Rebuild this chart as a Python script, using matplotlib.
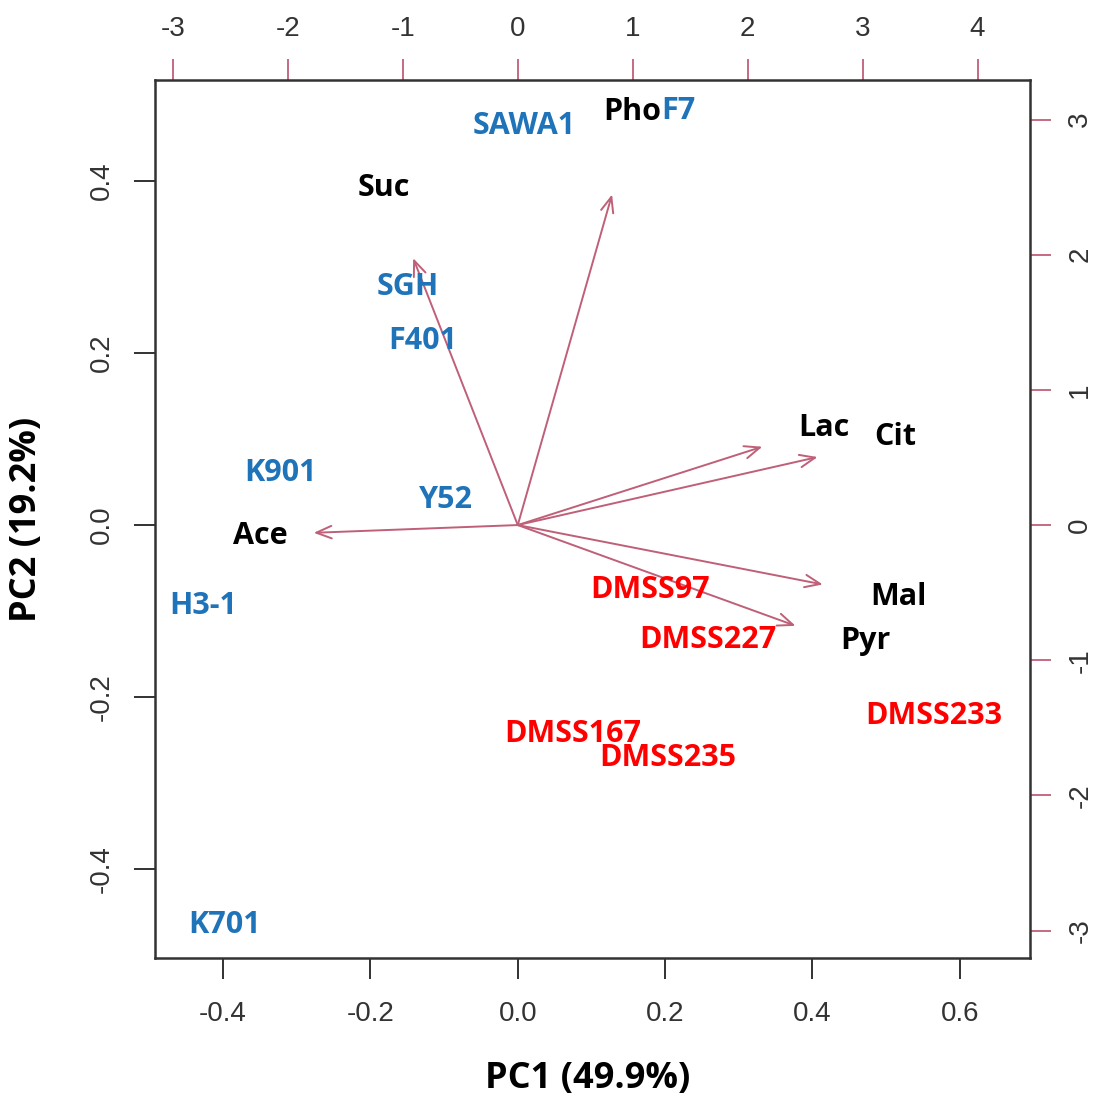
import matplotlib
matplotlib.use("Agg")
import matplotlib.pyplot as plt

# PCA loadings (arrow tips) for the organic acids / sugars
var_names = ['Pho', 'Suc', 'Ace', 'Lac', 'Cit', 'Mal', 'Pyr']
var_x = [0.128, -0.142, -0.277, 0.332, 0.407, 0.414, 0.377]
var_y = [0.384, 0.310, -0.009, 0.091, 0.079, -0.069, -0.117]

# where the variable names sit
var_lab_x = [0.161, -0.182, -0.349, 0.415, 0.513, 0.517, 0.472]
var_lab_y = [0.480, 0.392, -0.013, 0.113, 0.102, -0.084, -0.135]

# sample scores, reference strains
ref_names = ['SAWA1', 'F7', 'SGH', 'F401', 'K901', 'Y52', 'H3-1', 'K701']
ref_x = [0.008, 0.221, -0.149, -0.129, -0.322, -0.098, -0.427, -0.398]
ref_y = [0.463, 0.481, 0.277, 0.214, 0.060, 0.029, -0.094, -0.465]

# sample scores, DMSS isolates
dmss_names = ['DMSS97', 'DMSS227', 'DMSS167', 'DMSS235', 'DMSS233']
dmss_x = [0.180, 0.258, 0.075, 0.204, 0.564]
dmss_y = [-0.076, -0.133, -0.243, -0.271, -0.222]

x_ticks = [-0.4, -0.2, 0.0, 0.2, 0.4, 0.6]
y_ticks = [-0.4, -0.2, 0.0, 0.2, 0.4]
top_ticks = [-3, -2, -1, 0, 1, 2, 3, 4]
right_ticks = [-3, -2, -1, 0, 1, 2, 3]

arrow_col = '#bf5f78'
blue = '#1f73b8'
red = '#ff0000'
tick_col = '#333333'
lab_font = ['Open Sans', 'DejaVu Sans']
num_font = ['Liberation Sans', 'DejaVu Sans']

fig = plt.figure(figsize=(10.99, 10.95), dpi=100)
ax = fig.add_axes([0.141, 0.125, 0.796, 0.802])
ax.set_xlim(-0.4925, 0.695)
ax.set_ylim(-0.503, 0.517)

for s in ax.spines.values():
    s.set_color('#333333')
    s.set_linewidth(1.8)

for i in range(len(var_names)):
    ax.annotate('', xy=(var_x[i], var_y[i]), xytext=(0, 0),
                arrowprops=dict(arrowstyle='->,head_length=1.1,head_width=0.45',
                                color=arrow_col, lw=1.4, shrinkA=0, shrinkB=0))

lab_kw = dict(fontsize=22, fontweight='bold', family=lab_font, va='center')
for i, name in enumerate(var_names):
    if name == 'Pho':
        # "Pho" runs straight into the F7 label
        ax.text(ref_x[1] - 0.026, var_lab_y[i], name, color='black', ha='right', **lab_kw)
    else:
        ax.text(var_lab_x[i], var_lab_y[i], name, color='black', ha='center', **lab_kw)
for i, name in enumerate(ref_names):
    if name == 'F7':
        ax.text(ref_x[i] - 0.026, ref_y[i], name, color=blue, ha='left', **lab_kw)
    else:
        ax.text(ref_x[i], ref_y[i], name, color=blue, ha='center', **lab_kw)
for i, name in enumerate(dmss_names):
    ax.text(dmss_x[i], dmss_y[i], name, color=red, ha='center', **lab_kw)

ax.set_xticks(x_ticks)
ax.set_xticklabels([f'{v:.1f}' for v in x_ticks])
ax.set_yticks(y_ticks)
ax.set_yticklabels([f'{v:.1f}' for v in y_ticks], rotation=90, va='center')
ax.tick_params(axis='x', length=15, width=1.3, color='#222222', pad=16,
               labelsize=20, labelcolor=tick_col)
ax.tick_params(axis='y', length=15, width=1.3, color='#222222', pad=14,
               labelsize=20, labelcolor=tick_col)
for t in ax.get_xticklabels() + ax.get_yticklabels():
    t.set_family(num_font)

# score axes on top / right
kx = 737 / 115
ky = 860 / 135
top = ax.secondary_xaxis('top', functions=(lambda v: v * kx, lambda v: v / kx))
top.set_xticks(top_ticks)
top.set_xticklabels([str(v) for v in top_ticks])
right = ax.secondary_yaxis('right', functions=(lambda v: v * ky, lambda v: v / ky))
right.set_yticks(right_ticks)
right.set_yticklabels([str(v) for v in right_ticks], rotation=90, va='center')
for sec in (top, right):
    sec.spines[:].set_visible(False)
    sec.tick_params(length=15, width=1.3, color=arrow_col, pad=12, labelsize=20,
                    labelcolor=tick_col)
for t in top.get_xticklabels() + right.get_yticklabels():
    t.set_family(num_font)

ax.set_xlabel('PC1 (49.9%)', fontsize=26, fontweight='bold', family=lab_font)
ax.xaxis.set_label_coords(0.495, -0.117)
ax.set_ylabel('PC2 (19.2%)', fontsize=26, fontweight='bold', family=lab_font)
ax.yaxis.set_label_coords(-0.126, 0.5)

fig.savefig('out.png', dpi=100)
